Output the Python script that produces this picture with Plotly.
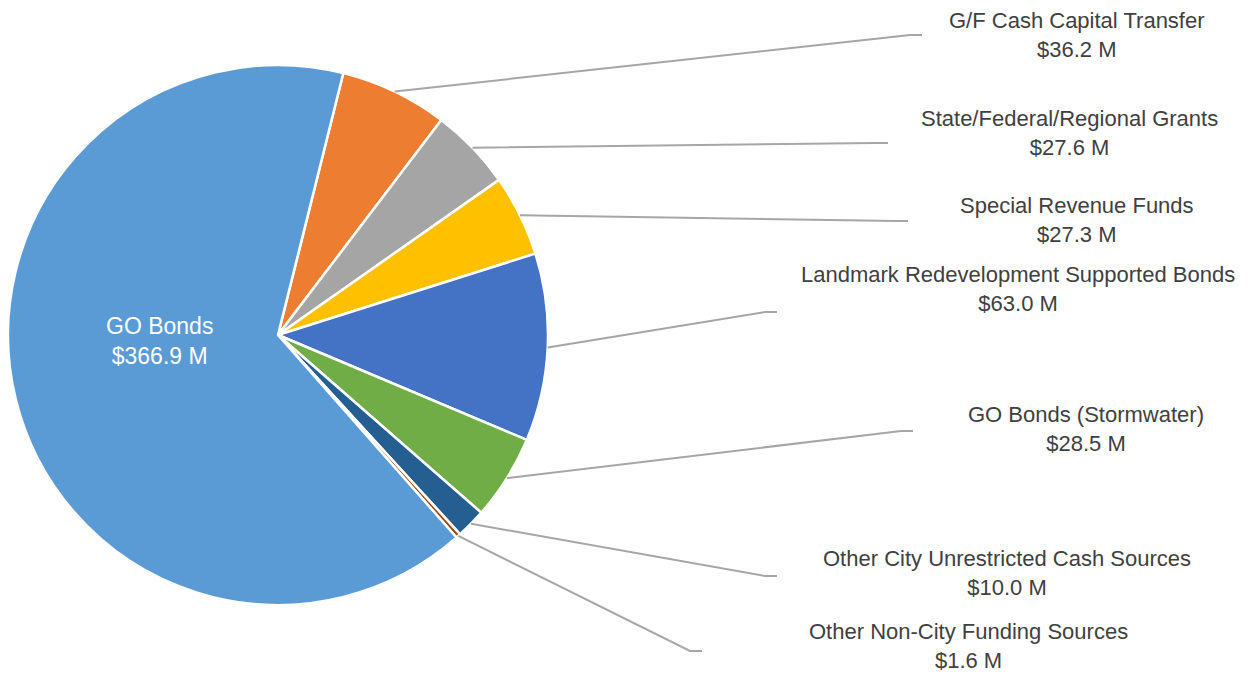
import plotly.graph_objects as go
import numpy as np

# funding sources, clockwise from the top
sources = ['G/F Cash Capital Transfer', 'State/Federal/Regional Grants', 'Special Revenue Funds',
           'Landmark Redevelopment Supported Bonds', 'GO Bonds (Stormwater)',
           'Other City Unrestricted Cash Sources', 'Other Non-City Funding Sources', 'GO Bonds']
amounts = [36.2, 27.6, 27.3, 63.0, 28.5, 10.0, 1.6, 366.9]
colors = ['#ED7D31', '#A5A5A5', '#FFC000', '#4472C4', '#70AD47', '#255E91', '#9E480E', '#5B9BD5']

W, H = 1256, 673
OFF = 8  # page body margin
cx, cy, R = 278, 335, 270
rotation = 14

# label box centres (px) and where the leader line ends (px)
label_pos = [(1077, 35), (1069, 133), (1077, 220), (1018, 289), (1086, 429), (1007, 573), (968, 646)]
line_end = [(922, 35), (888, 143), (908, 221), (777, 312), (913, 431), (777, 576), (702, 651)]
inside_pos = (159, 341)

FONT = 'Liberation Sans, Arial'


def px2paper(x, y):
    return (x - OFF) / W, 1 - (y - OFF) / H


fig = go.Figure()
x0, y0 = px2paper(cx - R, cy + R)
x1, y1 = px2paper(cx + R, cy - R)
fig.add_trace(go.Pie(
    labels=sources, values=amounts, sort=False, direction='clockwise', rotation=rotation,
    marker=dict(colors=colors, line=dict(color='white', width=2.5)),
    textinfo='none', domain=dict(x=[x0, x1], y=[y0, y1]),
    hoverinfo='label+value', showlegend=False,
))

total = sum(amounts)
cum = 0
for i in range(len(sources) - 1):
    mid = rotation + (cum + amounts[i] / 2) / total * 360
    cum += amounts[i]
    a = np.radians(mid)
    sx, sy = cx + R * np.sin(a), cy - R * np.cos(a)
    ex, ey = line_end[i]
    p0 = px2paper(sx, sy)
    p1 = px2paper(ex - 12, ey)
    p2 = px2paper(ex, ey)
    fig.add_shape(type='path', xref='paper', yref='paper',
                  path=f'M {p0[0]} {p0[1]} L {p1[0]} {p1[1]} L {p2[0]} {p2[1]}',
                  line=dict(color='#A6A6A6', width=2))
    lx, ly = px2paper(*label_pos[i])
    fig.add_annotation(x=lx, y=ly, xref='paper', yref='paper', showarrow=False,
                       xanchor='center', yanchor='middle',
                       text=f'{sources[i]}<br>${amounts[i]:.1f} M', align='center',
                       font=dict(size=22, color='#404040', family=FONT))

lx, ly = px2paper(*inside_pos)
fig.add_annotation(x=lx, y=ly, xref='paper', yref='paper', showarrow=False,
                   xanchor='center', yanchor='middle', align='center',
                   text=f'{sources[-1]}<br>${amounts[-1]:.1f} M',
                   font=dict(size=23, color='white', family=FONT))

fig.update_layout(width=W, height=H, margin=dict(l=0, r=0, t=0, b=0),
                  paper_bgcolor='white', plot_bgcolor='white')
fig.write_html('out.html')
